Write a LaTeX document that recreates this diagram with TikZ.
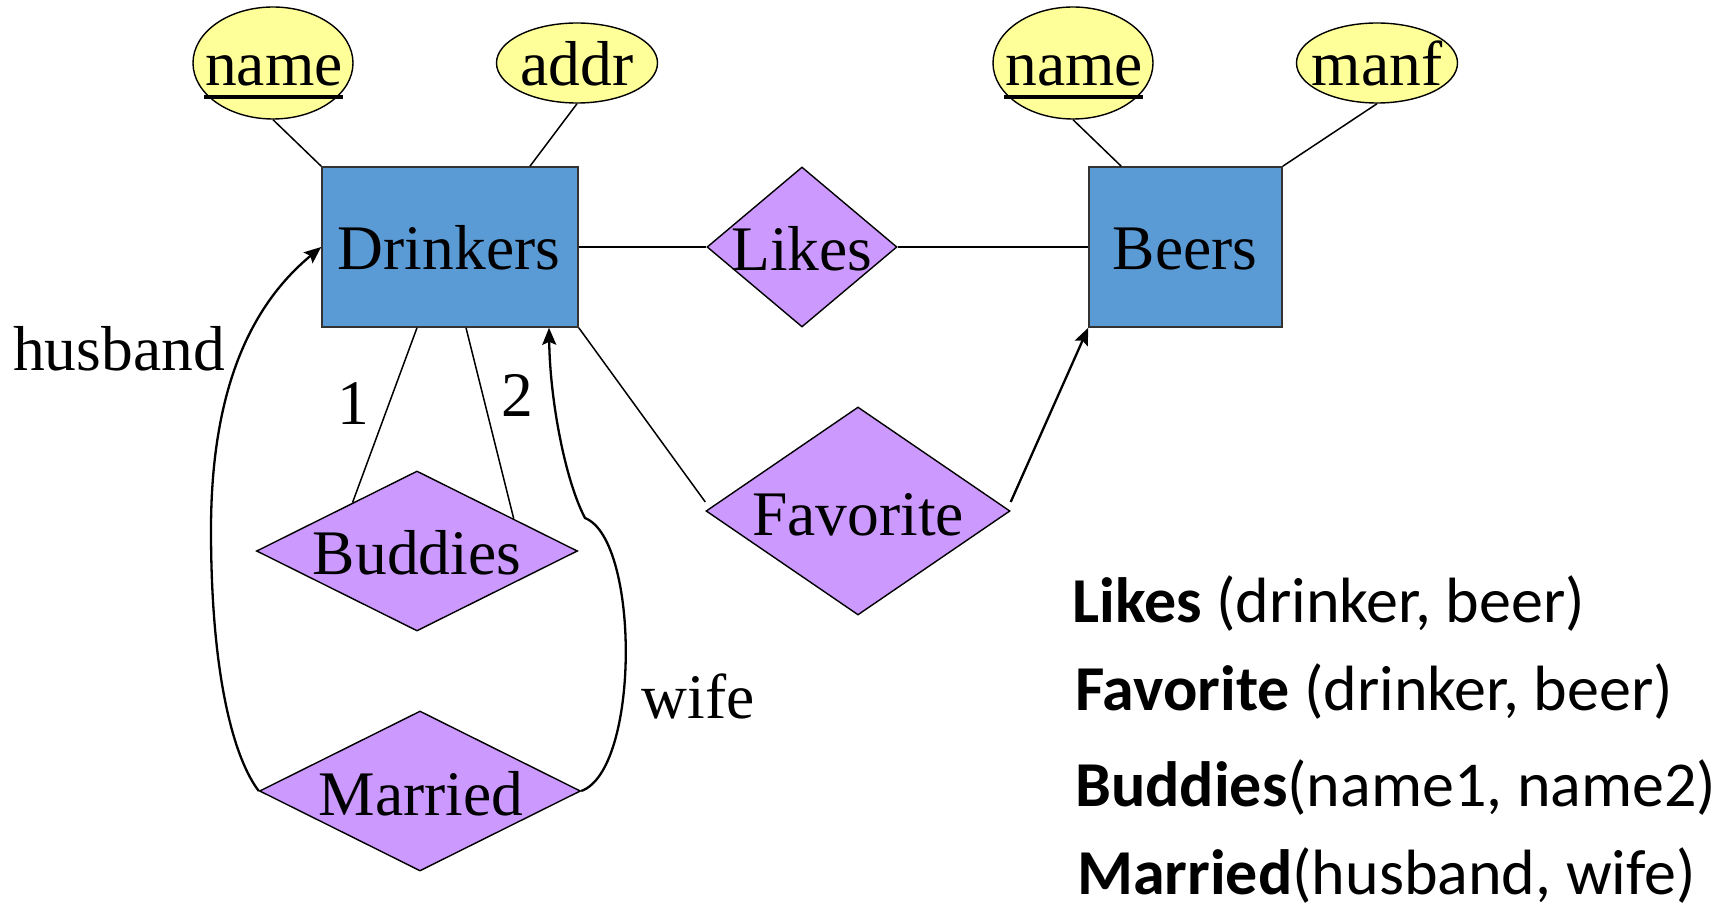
\documentclass[tikz,border=0pt]{standalone}
\usepackage{fontspec}
\setmainfont{Liberation Serif}
\newfontfamily\legfont{Carlito}
\usetikzlibrary{shapes.geometric,arrows.meta,calc}
\definecolor{entblue}{HTML}{5B9BD5}
\definecolor{relpurple}{HTML}{CC99FF}
\definecolor{attryellow}{HTML}{FFFF99}
\definecolor{edgegray}{HTML}{333333}
\tikzset{
  entity/.style={draw=edgegray, line width=1.6pt, fill=entblue, rectangle, inner sep=0pt},
  relation/.style={draw=black, line width=1.4pt, fill=relpurple, diamond, inner sep=0pt},
  attrib/.style={draw=black, line width=1.4pt, fill=attryellow, ellipse, inner sep=0pt},
  lbl/.style={font=\fontsize{63.5pt}{63.5pt}\selectfont, inner sep=0pt, anchor=base},
  leg/.style={font=\legfont\fontsize{64pt}{64pt}\selectfont, inner sep=0pt, anchor=base west},
  conn/.style={line width=1.5pt, draw=black},
  arr/.style={line width=2.3pt, draw=black, -{Stealth[length=17pt,width=14pt,inset=3pt]}},
  keyline/.style={line width=3.5pt, draw=black}
}
\begin{document}
\begin{tikzpicture}[x=1pt,y=-1pt]
\useasboundingbox (0,0) rectangle (1729,909);
% entities
\node[entity, minimum width=256pt, minimum height=160pt] (drinkers) at (450,247) {};
\node[entity, minimum width=193pt, minimum height=160pt] (beers) at (1185.5,247) {};
% attributes
\node[attrib, minimum width=160pt, minimum height=112pt] (dname) at (273,63) {};
\node[attrib, minimum width=161pt, minimum height=80pt] (addr) at (577,63) {};
\node[attrib, minimum width=160pt, minimum height=112pt] (bname) at (1073,63) {};
\node[attrib, minimum width=161pt, minimum height=80pt] (manf) at (1377,63) {};
% relationships
\node[relation, minimum width=190pt, minimum height=160pt] (likes) at (802,247) {};
\node[relation, minimum width=304pt, minimum height=208pt] (favorite) at (858,511) {};
\node[relation, minimum width=321pt, minimum height=160pt] (buddies) at (417,551) {};
\node[relation, minimum width=321pt, minimum height=160pt] (married) at (420,791) {};
% texts
\node[lbl] (tdrinkers) at (449,270) {Drinkers};
\node[lbl] (tbeers) at (1185,270) {Beers};
\node[lbl] (tdname) at (274,86) {name};
\node[lbl] (taddr) at (577,86) {addr};
\node[lbl] (tbname) at (1074,86) {name};
\node[lbl] (tmanf) at (1377,86) {manf};
\node[lbl] (tlikes) at (802,271) {Likes};
\node[lbl] (tfavorite) at (858,535) {Favorite};
\node[lbl] (tbuddies) at (417,574) {Buddies};
\node[lbl] (tmarried) at (421,815) {Married};
\node[lbl] (tone) at (353,424) {1};
\node[lbl] (ttwo) at (517,416) {2};
\node[lbl] (thusband) at (119,370) {husband};
\node[lbl] (twife) at (698,718) {wife};
% key underlines
\draw[keyline] ([xshift=-1pt,yshift=-11pt]tdname.base west) -- ([xshift=0pt,yshift=-11pt]tdname.base east);
\draw[keyline] ([xshift=-1pt,yshift=-11pt]tbname.base west) -- ([xshift=0pt,yshift=-11pt]tbname.base east);
% attribute links
\draw[conn] (dname.south) -- (drinkers.north west);
\draw[conn] (addr.south) -- ([xshift=80pt]drinkers.north);
\draw[conn] (bname.south) -- ([xshift=33pt]beers.north west);
\draw[conn] (manf.south) -- (beers.north east);
% relationship links
\draw[conn] (drinkers.east) -- (likes.west);
\draw[conn] (likes.east) -- (beers.west);
\draw[conn] (drinkers.south east) -- ([yshift=9pt]favorite.west);
\draw[arr] ([yshift=9pt]favorite.east) -- (beers.south west);
\draw[conn] ([xshift=-33pt]drinkers.south) -- ($(buddies.west)!0.6!(buddies.north)$);
\draw[conn] ([xshift=16pt]drinkers.south) -- ($(buddies.north)!0.6!(buddies.east)$);
% married roles
\coordinate (hmid) at (211,530);
\coordinate (wkink) at (585,518);
\draw[arr] (married.west) .. controls (235,760) and (211,680) .. (hmid)
  .. controls (211,400) and (245,310) .. (drinkers.west);
\draw[arr] (married.east) .. controls (640,770) and (640,540) .. (wkink)
  .. controls (565,480) and (550,400) .. ([xshift=99pt]drinkers.south);
% legend
\node[leg] (k1) at (1072,622) {\textbf{Likes} (drinker, beer)};
\node[leg] (k2) at (1075,710) {\textbf{Favorite} (drinker, beer)};
\node[leg] (k3) at (1075,806) {\textbf{Buddies}(name1, name2)};
\node[leg] (k4) at (1077,894) {\textbf{Married}(husband, wife)};
\end{tikzpicture}
\end{document}
